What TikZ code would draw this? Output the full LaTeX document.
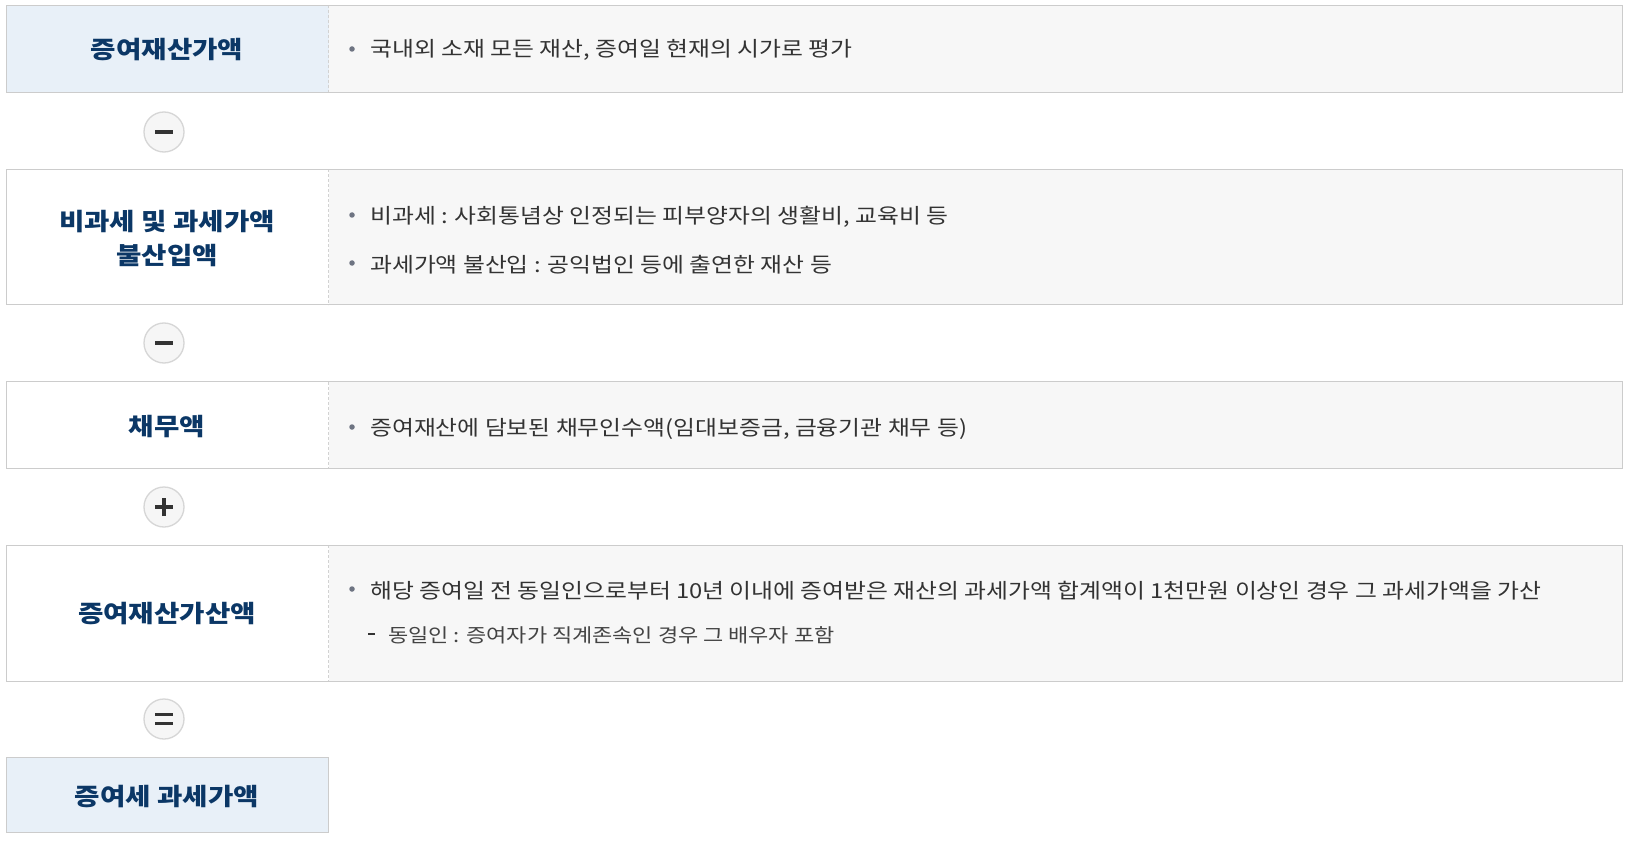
\documentclass[tikz,border=0pt]{standalone}
\usepackage{fontspec}
\setmainfont{Noto Sans CJK KR}[FakeStretch=1.15]
\definecolor{bordc}{HTML}{CCCCCC}
\definecolor{divc}{HTML}{D2D2D2}
\definecolor{leftblue}{HTML}{E8F0F8}
\definecolor{rightgray}{HTML}{F7F7F7}
\definecolor{titlec}{HTML}{0B3766}
\definecolor{bodyc}{HTML}{333333}
\definecolor{subc}{HTML}{444444}
\definecolor{bulletc}{HTML}{6E7482}
\definecolor{circfill}{HTML}{F6F6F6}
\definecolor{circbord}{HTML}{D6D6D6}
\definecolor{symc}{HTML}{333333}
\begin{document}
\begin{tikzpicture}[x=1pt,y=-1pt,
  rowbox/.style={draw=bordc,line width=1pt},
  divline/.style={draw=divc,line width=0.8pt,dash pattern=on 3pt off 2pt},
  titletext/.style={font=\fontsize{24}{31}\selectfont\bfseries,text=titlec,align=center,inner sep=0pt},
  bodytext/.style={font=\fontsize{20.7}{24}\selectfont,text=bodyc,anchor=west,inner sep=0pt},
  subtext/.style={font=\fontsize{19.1}{22}\selectfont,text=subc,anchor=west,inner sep=0pt},
  bulletdot/.style={circle,fill=bulletc,inner sep=0pt,minimum size=5.5pt},
  opcircle/.style={circle,draw=circbord,fill=circfill,line width=1.3pt,minimum size=40pt,inner sep=0pt},
  symline/.style={draw=symc,line width=3.2pt}
]
\useasboundingbox (0,0) rectangle (1629,842);
\fill[white] (0,0) rectangle (1629,842);

% Row 1
\fill[leftblue] (6.5,5.5) rectangle (328.5,92.5);
\fill[rightgray] (328.5,5.5) rectangle (1622.5,92.5);
\draw[divline] (328.5,5.5) -- (328.5,92.5);
\draw[rowbox] (6.5,5.5) rectangle (1622.5,92.5);
\node[titletext] (t1) at (167,49.5) {증여재산가액};
\node[bulletdot] (b1) at (352,49) {};
\node[bodytext] (x1) at (370,50) {국내외 소재 모든 재산, 증여일 현재의 시가로 평가};

% Operator 1
\node[opcircle] (c1) at (164,132) {};
\draw[symline] ([xshift=-9pt]c1.center) -- ([xshift=9pt]c1.center);

% Row 2
\fill[white] (6.5,169.5) rectangle (328.5,304.5);
\fill[rightgray] (328.5,169.5) rectangle (1622.5,304.5);
\draw[divline] (328.5,169.5) -- (328.5,304.5);
\draw[rowbox] (6.5,169.5) rectangle (1622.5,304.5);
\node[titletext] (t2) at (167,239) {비과세 및 과세가액\\[3pt]불산입액};
\node[bulletdot] (b2a) at (352,215) {};
\node[bodytext] (x2a) at (370,217) {비과세 : 사회통념상 인정되는 피부양자의 생활비, 교육비 등};
\node[bulletdot] (b2b) at (352,263) {};
\node[bodytext] (x2b) at (370,264.5) {과세가액 불산입 : 공익법인 등에 출연한 재산 등};

% Operator 2
\node[opcircle] (c2) at (164,343) {};
\draw[symline] ([xshift=-9pt]c2.center) -- ([xshift=9pt]c2.center);

% Row 3
\fill[white] (6.5,381.5) rectangle (328.5,468.5);
\fill[rightgray] (328.5,381.5) rectangle (1622.5,468.5);
\draw[divline] (328.5,381.5) -- (328.5,468.5);
\draw[rowbox] (6.5,381.5) rectangle (1622.5,468.5);
\node[titletext] (t3) at (167,427) {채무액};
\node[bulletdot] (b3) at (352,427) {};
\node[bodytext] (x3) at (370,428.5) {증여재산에 담보된 채무인수액(임대보증금, 금융기관 채무 등)};

% Operator 3
\node[opcircle] (c3) at (164,507) {};
\draw[symline] ([xshift=-9pt]c3.center) -- ([xshift=9pt]c3.center);
\draw[symline] ([yshift=-9pt]c3.center) -- ([yshift=9pt]c3.center);

% Row 4
\fill[white] (6.5,545) rectangle (328.5,681);
\fill[rightgray] (328.5,545) rectangle (1622.5,681);
\draw[divline] (328.5,545) -- (328.5,681);
\draw[rowbox] (6.5,545) rectangle (1622.5,681);
\node[titletext] (t4) at (167,614) {증여재산가산액};
\node[bulletdot] (b4) at (352,589) {};
\node[bodytext] (x4) at (370,591) {해당 증여일 전 동일인으로부터 10년 이내에 증여받은 재산의 과세가액 합계액이 1천만원 이상인 경우 그 과세가액을 가산};
\coordinate (d4a) at (368,634);
\coordinate (d4b) at (375,634);
\draw[symc,line width=2.8pt] (d4a) -- (d4b);
\node[subtext] (x4s) at (388,635) {동일인 : 증여자가 직계존속인 경우 그 배우자 포함};

% Operator 4
\node[opcircle] (c4) at (164,719) {};
\draw[symline,line width=3pt] ([xshift=-9pt,yshift=-4.5pt]c4.center) -- ([xshift=9pt,yshift=-4.5pt]c4.center);
\draw[symline,line width=3pt] ([xshift=-9pt,yshift=4.5pt]c4.center) -- ([xshift=9pt,yshift=4.5pt]c4.center);

% Row 5
\fill[leftblue] (6.5,757) rectangle (328.5,832);
\draw[rowbox] (6.5,757) rectangle (328.5,832);
\node[titletext] (t5) at (167,797) {증여세 과세가액};
\end{tikzpicture}
\end{document}
